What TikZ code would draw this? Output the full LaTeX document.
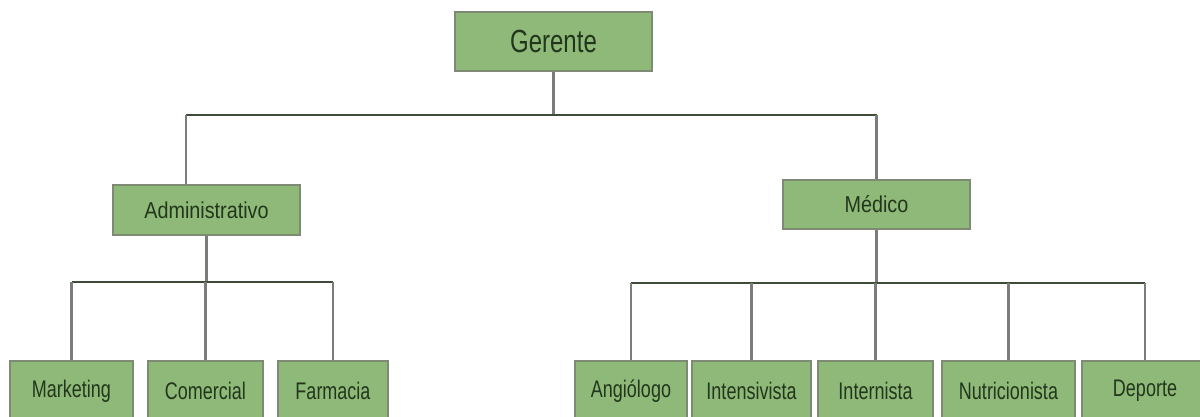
\documentclass[tikz,border=0pt]{standalone}
\usepackage{fontspec}
\newfontfamily\orgnarrow{Liberation Sans}[FakeStretch=0.75]
\newfontfamily\orgmid{Liberation Sans}[FakeStretch=0.86]
\definecolor{boxgreen}{HTML}{8FB978}
\definecolor{boxedge}{HTML}{7E8A74}
\definecolor{labelink}{HTML}{22361C}
\definecolor{barline}{HTML}{3E4B38}
\definecolor{stemline}{HTML}{7A7D78}

\begin{document}
\begin{tikzpicture}[x=1pt, y=-1pt,
  unit/.style={draw=boxedge, line width=2.2pt, fill=boxgreen, text=labelink, inner sep=0pt},
  toplevel/.style={unit, font=\orgnarrow\fontsize{32}{36}\selectfont},
  midlevel/.style={unit, font=\orgmid\fontsize{23}{26}\selectfont},
  lowlevel/.style={unit, font=\orgnarrow\fontsize{24}{28}\selectfont},
  bar/.style={barline, line width=2.6pt},
  stem/.style={stemline, line width=2.4pt}]

  % page frame (boxes of the last row run off the bottom edge)
  \useasboundingbox (0,0) rectangle (1200,417);
  \fill[white] (0,0) rectangle (1200,417);
  \clip (0,0) rectangle (1200,417);

  % levels 1 and 2
  \node[toplevel, minimum width=197pt, minimum height=59pt] (ger) at (553.5,41.5) {Gerente};
  \node[midlevel, minimum width=187pt, minimum height=50pt] (adm) at (206.5,210) {Administrativo};
  \node[midlevel, minimum width=187pt, minimum height=49pt] (med) at (876.5,204.5) {Médico};

  % level 3
  \foreach \name/\cx/\w/\txt in {mkt/71.5/123/Marketing, com/205.5/115/Comercial,
      far/333/110/Farmacia, ang/631/112/Angiólogo, ins/751.5/119/Intensivista,
      inr/875.5/115/Internista, nut/1008.5/133/Nutricionista, dep/1145/126/Deporte}
    \node[lowlevel, minimum width=\w pt, minimum height=60pt] (\name) at (\cx,391) {\txt};

  % bar positions
  \coordinate (topbarL) at (186,115);
  \coordinate (topbarR) at (876.5,115);
  \coordinate (admbar) at (206.5,282);
  \coordinate (medbar) at (876.5,283);

  % gerente -> areas
  \draw[stem] (ger.south) -- (ger.south |- topbarL);
  \draw[bar] (topbarL) -- (topbarR);
  \draw[stem] (topbarL) -- (topbarL |- adm.north);
  \draw[stem] (topbarR) -- (med.north);

  % administrativo -> its units
  \draw[stem] (adm.south) -- (admbar);
  \draw[bar] (mkt.north |- admbar) -- (far.north |- admbar);
  \foreach \name in {mkt,com,far}
    \draw[stem] (\name.north |- admbar) -- (\name.north);

  % medico -> its units
  \draw[stem] (med.south) -- (medbar);
  \draw[bar] (ang.north |- medbar) -- (dep.north |- medbar);
  \foreach \name in {ang,ins,inr,nut,dep}
    \draw[stem] (\name.north |- medbar) -- (\name.north);

\end{tikzpicture}
\end{document}
